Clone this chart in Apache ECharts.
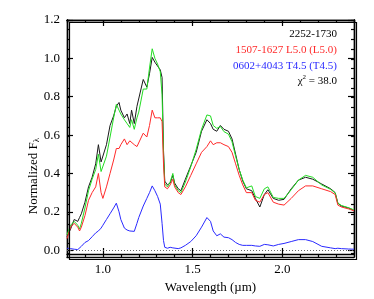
<!DOCTYPE html>
<html><head><meta charset="utf-8">
<script src="https://cdn.jsdelivr.net/npm/echarts@6/dist/echarts.min.js"></script>
<style>html,body{margin:0;padding:0;background:#fff;overflow:hidden}#c{width:374px;height:299px}</style>
</head><body><div id="c"></div>
<script>
const wavelength = [0.80,0.82,0.84,0.85,0.86,0.87,0.88,0.90,0.92,0.94,0.96,0.975,0.99,1.00,1.02,1.04,1.06,1.075,1.09,1.10,1.12,1.135,1.15,1.16,1.175,1.19,1.20,1.225,1.245,1.26,1.275,1.29,1.305,1.32,1.33,1.338,1.345,1.36,1.375,1.39,1.40,1.42,1.435,1.46,1.49,1.52,1.55,1.58,1.60,1.615,1.635,1.655,1.675,1.70,1.72,1.74,1.76,1.78,1.80,1.83,1.85,1.875,1.90,1.92,1.95,1.98,2.01,2.05,2.09,2.13,2.17,2.22,2.27,2.295,2.31,2.33,2.37,2.40];
const fluxTarget = [0.07,0.11,0.16,0.17,0.15,0.17,0.19,0.25,0.33,0.38,0.45,0.55,0.46,0.45,0.55,0.65,0.70,0.75,0.77,0.73,0.69,0.71,0.66,0.73,0.66,0.75,0.74,0.89,0.85,0.92,1.005,0.98,0.96,0.94,0.90,0.52,0.36,0.34,0.35,0.39,0.35,0.32,0.31,0.37,0.44,0.51,0.62,0.68,0.66,0.63,0.62,0.65,0.63,0.62,0.58,0.50,0.42,0.36,0.32,0.31,0.27,0.225,0.29,0.315,0.27,0.26,0.265,0.32,0.365,0.38,0.37,0.345,0.32,0.30,0.245,0.23,0.22,0.207];
const fluxPrimary = [0.06,0.12,0.14,0.15,0.12,0.10,0.12,0.18,0.26,0.30,0.33,0.40,0.30,0.27,0.33,0.40,0.47,0.53,0.53,0.55,0.58,0.55,0.57,0.56,0.55,0.54,0.55,0.61,0.59,0.65,0.73,0.69,0.69,0.69,0.67,0.45,0.33,0.32,0.34,0.37,0.33,0.30,0.29,0.33,0.39,0.45,0.51,0.54,0.57,0.55,0.56,0.56,0.55,0.54,0.51,0.45,0.39,0.34,0.30,0.30,0.26,0.25,0.29,0.30,0.25,0.24,0.235,0.27,0.31,0.335,0.335,0.32,0.305,0.29,0.235,0.225,0.215,0.205];
const fluxSecondary = [0.01,0.008,0.005,0.005,0.003,0.008,0.02,0.04,0.05,0.07,0.09,0.10,0.115,0.13,0.16,0.19,0.22,0.245,0.20,0.16,0.115,0.105,0.10,0.10,0.098,0.14,0.17,0.23,0.27,0.30,0.335,0.31,0.28,0.24,0.14,0.05,0.015,0.01,0.015,0.012,0.01,0.008,0.012,0.025,0.045,0.075,0.12,0.17,0.15,0.10,0.075,0.085,0.068,0.065,0.055,0.04,0.03,0.025,0.025,0.025,0.022,0.02,0.03,0.028,0.022,0.03,0.035,0.045,0.055,0.055,0.045,0.02,0.012,0.008,0.01,0.008,0.006,0.005];
const fluxComposite = [0.08,0.13,0.15,0.155,0.13,0.11,0.14,0.22,0.31,0.37,0.42,0.50,0.41,0.40,0.49,0.59,0.69,0.76,0.73,0.71,0.68,0.66,0.64,0.68,0.63,0.69,0.72,0.84,0.84,0.95,1.05,1.0,0.97,0.93,0.81,0.50,0.345,0.33,0.355,0.40,0.34,0.31,0.30,0.355,0.435,0.525,0.63,0.705,0.70,0.65,0.635,0.645,0.618,0.605,0.565,0.49,0.42,0.365,0.325,0.335,0.28,0.27,0.32,0.33,0.275,0.27,0.27,0.315,0.365,0.39,0.38,0.34,0.317,0.298,0.245,0.233,0.221,0.21];
const xMajorTicks = [1.0, 1.5, 2.0];
const xMinorTicks = [0.8,0.9,1.0,1.1,1.2,1.3,1.4,1.5,1.6,1.7,1.8,1.9,2.0,2.1,2.2,2.3,2.4];
const yMajorTicks = [0.0,0.2,0.4,0.6,0.8,1.0,1.2];
const yMinorTicks = [0.0,0.05,0.1,0.15,0.2,0.25,0.3,0.35,0.4,0.45,0.5,0.55,0.6,0.65,0.7,0.75,0.8,0.85,0.9,0.95,1.0,1.05,1.1,1.15,1.2];
const legendLines = ['2252-1730','1507-1627 L5.0 (L5.0)','0602+4043 T4.5 (T4.5)'];
const chiSquared = '38.0';

const FONT = '"Liberation Serif", "DejaVu Serif", serif';
const XMIN=0.8, XMAX=2.4, YMIN=-0.02, YMAX=1.2;
function pairs(arr){ return wavelength.map((w,i)=>[w,arr[i]]); }

function xAx(grid, pos, ticks, len, labels){
  return {type:'value', gridIndex:grid, position:pos, min:XMIN, max:XMAX,
    axisLine:{show:true, onZero:false, lineStyle:{color:'#000',width:1.4}},
    axisTick:{show:true, inside:true, length:len, customValues:ticks, lineStyle:{color:'#000',width:1.2}},
    axisLabel:{show:labels, customValues:ticks, formatter:v=>v.toFixed(1), color:'#000', fontFamily:FONT, fontSize:13, margin:9},
    splitLine:{show:false},
    name: labels ? 'Wavelength (\u00b5m)' : '', nameLocation:'middle', nameGap:27,
    nameTextStyle:{color:'#000', fontFamily:FONT, fontSize:13}};
}
function yAx(grid, pos, ticks, len, labels){
  return {type:'value', gridIndex:grid, position:pos, min:YMIN, max:YMAX,
    axisLine:{show:true, onZero:false, lineStyle:{color:'#000',width:1.4}},
    axisTick:{show:true, inside:true, length:len, customValues:ticks, lineStyle:{color:'#000',width:1.2}},
    axisLabel:{show:labels, customValues:ticks, formatter:v=>v.toFixed(1), color:'#000', fontFamily:FONT, fontSize:13, margin:7},
    splitLine:{show:false}};
}
function holder(xi, yi){
  return {type:'line', data:[], xAxisIndex:xi, yAxisIndex:yi, showSymbol:false, silent:true};
}

const chart = echarts.init(document.getElementById('c'), null, {renderer:'canvas'});
const lw = 1;
const g = {left:67, right:20, top:20, bottom:42, containLabel:false};
chart.setOption({
  animation:false,
  backgroundColor:'#fff',
  grid:[Object.assign({}, g), Object.assign({}, g)],
  xAxis:[
    xAx(0, 'bottom', xMajorTicks, 6, true),
    xAx(0, 'top', xMajorTicks, 6, false),
    xAx(1, 'bottom', xMinorTicks, 3, false),
    xAx(1, 'top', xMinorTicks, 3, false)
  ],
  yAxis:[
    yAx(0, 'left', yMajorTicks, 6, true),
    yAx(0, 'right', yMajorTicks, 6, false),
    yAx(1, 'left', yMinorTicks, 3, false),
    yAx(1, 'right', yMinorTicks, 3, false)
  ],
  series:[
    holder(1,1), holder(2,2), holder(3,3),
    {type:'line', name:legendLines[0], data:pairs(fluxTarget), showSymbol:false, symbol:'none',
     xAxisIndex:0, yAxisIndex:0,
     lineStyle:{color:'#1a1a1a', width:lw}, z:3,
     markLine:{silent:true, symbol:'none', label:{show:false},
       lineStyle:{color:'#666', type:[1,2], width:1}, data:[{yAxis:0}]}},
    {type:'line', name:'composite', data:pairs(fluxComposite), showSymbol:false, symbol:'none',
     xAxisIndex:0, yAxisIndex:0, lineStyle:{color:'#22dd22', width:lw}, z:4},
    {type:'line', name:legendLines[1], data:pairs(fluxPrimary), showSymbol:false, symbol:'none',
     xAxisIndex:0, yAxisIndex:0, lineStyle:{color:'#ff2a2a', width:lw}, z:5},
    {type:'line', name:legendLines[2], data:pairs(fluxSecondary), showSymbol:false, symbol:'none',
     xAxisIndex:0, yAxisIndex:0, lineStyle:{color:'#2a2aff', width:lw}, z:6}
  ],
  graphic:[
    {type:'text', right:37, top:29, style:{text:legendLines[0], fill:'#000', font:'11px '+FONT, align:'right'}},
    {type:'text', right:37, top:45, style:{text:legendLines[1], fill:'#ff2a2a', font:'11px '+FONT, align:'right'}},
    {type:'text', right:37, top:61, style:{text:legendLines[2], fill:'#2a2aff', font:'11px '+FONT, align:'right'}},
    {type:'text', right:37, top:74, style:{text:'{c|\u03c7}{s|2}{c| = '+chiSquared+'}', align:'right',
      rich:{c:{fill:'#000', font:'11px '+FONT, verticalAlign:'bottom'}, s:{fill:'#000', font:'7px '+FONT, verticalAlign:'top', padding:[0,0,6,0]}}}},
    {type:'text', left:27, top:138, rotation:Math.PI/2, style:{text:'{n|Normalized F}{sub|\u03bb}', align:'center', verticalAlign:'middle',
      rich:{n:{fill:'#000', font:'13px '+FONT}, sub:{fill:'#000', font:'9px '+FONT, padding:[6,0,0,0]}}}},
    {type:'rect', left:67, top:20, z:100, silent:true, shape:{x:0, y:0, width:287, height:237},
      style:{fill:'none', stroke:'#000', lineWidth:1.2}}
  ]
});
</script>
</body></html>
